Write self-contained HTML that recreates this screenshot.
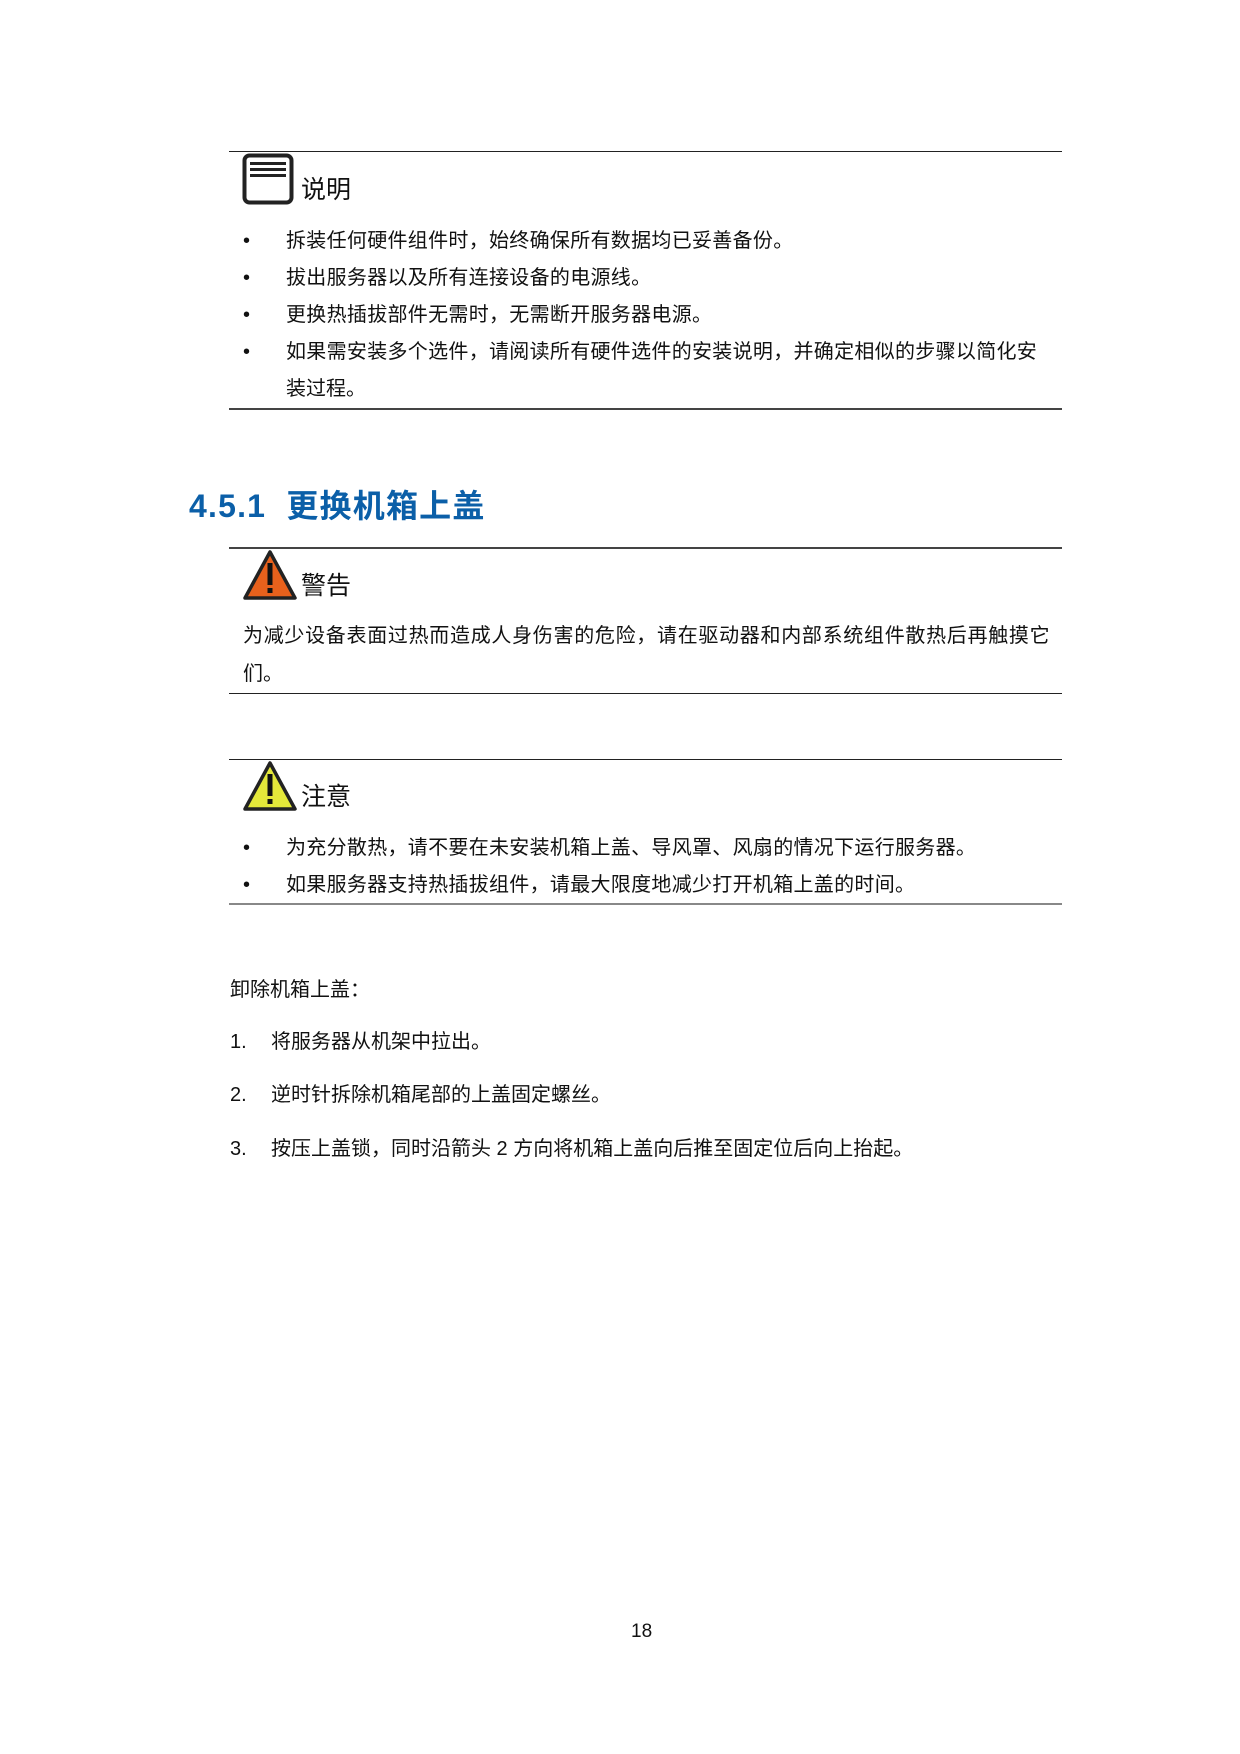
<!DOCTYPE html>
<html><head><meta charset="utf-8">
<style>
html,body{margin:0;padding:0;background:#fff;}
body{width:1240px;height:1754px;position:relative;overflow:hidden;font-family:"Liberation Sans","Noto Sans CJK SC",sans-serif;color:#111;}
.t{position:absolute;white-space:nowrap;font-size:20px;line-height:24px;}
.r{position:absolute;left:229px;width:833px;height:1px;background:#222;}
.b{position:absolute;font-size:20px;line-height:24px;left:243px;}
.h{position:absolute;font-size:25px;line-height:30px;}
</style></head><body>
<div class="r" style="top:151px"></div>
<svg style="position:absolute;left:242px;top:153px" width="52" height="52" viewBox="0 0 52 52">
<rect x="2.5" y="2.5" width="47" height="47" rx="5" fill="none" stroke="#222" stroke-width="4"/>
<rect x="8" y="9" width="36" height="3" fill="#222"/><rect x="8" y="15" width="36" height="3" fill="#222"/><rect x="8" y="21" width="36" height="3" fill="#222"/>
</svg>
<div class="h" style="left:301px;top:175px">说明</div>
<div class="b" style="top:229px">•</div><div class="t" style="left:286px;top:229px;letter-spacing:0.3px">拆装任何硬件组件时，始终确保所有数据均已妥善备份。</div>
<div class="b" style="top:266px">•</div><div class="t" style="left:286px;top:266px;letter-spacing:0.3px">拔出服务器以及所有连接设备的电源线。</div>
<div class="b" style="top:303px">•</div><div class="t" style="left:286px;top:303px;letter-spacing:0.3px">更换热插拔部件无需时，无需断开服务器电源。</div>
<div class="b" style="top:340px">•</div><div class="t" style="left:286px;top:340px;letter-spacing:0.3px">如果需安装多个选件，请阅读所有硬件选件的安装说明，并确定相似的步骤以简化安</div>
<div class="t" style="left:286px;top:377px">装过程。</div>
<div class="r" style="top:408px;background:#444;height:2px"></div>

<div class="t" style="left:189px;top:487px;font-size:32px;line-height:38px;color:#0b5fa8;font-weight:bold;letter-spacing:1.2px">4.5.1&nbsp; 更换机箱上盖</div>

<div class="r" style="top:547px;background:#444;height:2px"></div>
<svg style="position:absolute;left:242px;top:549px" width="56" height="52" viewBox="0 0 56 52">
<polygon points="28,3 53,49 3,49" fill="#e8611c" stroke="#222" stroke-width="3.5" stroke-linejoin="round"/>
<rect x="25.5" y="14" width="5" height="22" fill="#111"/><rect x="25.5" y="39" width="5" height="5" fill="#111"/>
</svg>
<div class="h" style="left:301px;top:571px">警告</div>
<div class="t" style="left:243px;top:624px;letter-spacing:0.7px">为减少设备表面过热而造成人身伤害的危险，请在驱动器和内部系统组件散热后再触摸它</div>
<div class="t" style="left:243px;top:662px">们。</div>
<div class="r" style="top:693px"></div>

<div class="r" style="top:759px"></div>
<svg style="position:absolute;left:242px;top:760px" width="56" height="52" viewBox="0 0 56 52">
<polygon points="28,3 53,49 3,49" fill="#e4e83a" stroke="#222" stroke-width="3.5" stroke-linejoin="round"/>
<rect x="25.5" y="14" width="5" height="22" fill="#111"/><rect x="25.5" y="39" width="5" height="5" fill="#111"/>
</svg>
<div class="h" style="left:301px;top:782px">注意</div>
<div class="b" style="top:836px">•</div><div class="t" style="left:286px;top:836px;letter-spacing:0.3px">为充分散热，请不要在未安装机箱上盖、导风罩、风扇的情况下运行服务器。</div>
<div class="b" style="top:873px">•</div><div class="t" style="left:286px;top:873px;letter-spacing:0.3px">如果服务器支持热插拔组件，请最大限度地减少打开机箱上盖的时间。</div>
<div class="r" style="top:903px;background:#888;height:2px"></div>

<div class="t" style="left:230px;top:978px">卸除机箱上盖：</div>
<div class="t" style="left:230px;top:1030px">1.</div><div class="t" style="left:271px;top:1030px">将服务器从机架中拉出。</div>
<div class="t" style="left:230px;top:1083px">2.</div><div class="t" style="left:271px;top:1083px">逆时针拆除机箱尾部的上盖固定螺丝。</div>
<div class="t" style="left:230px;top:1137px">3.</div><div class="t" style="left:271px;top:1137px">按压上盖锁，同时沿箭头 2 方向将机箱上盖向后推至固定位后向上抬起。</div>

<div class="t" style="left:631px;top:1620px;font-size:19px">18</div>
</body></html>
